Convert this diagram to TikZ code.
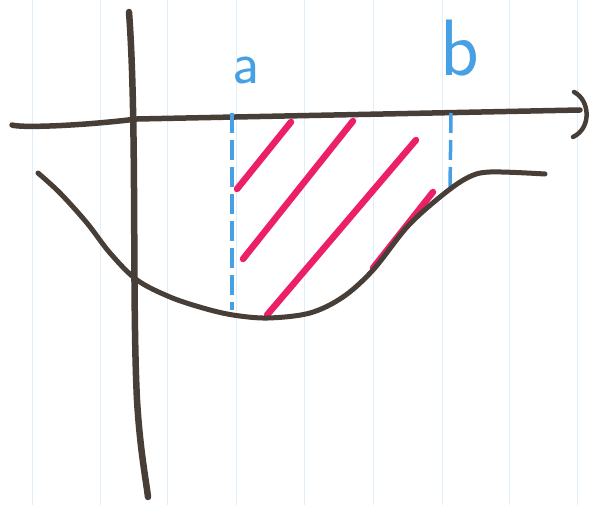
\documentclass[tikz,border=0pt]{standalone}
\usetikzlibrary{calc}

\definecolor{ink}{RGB}{72,62,56}
\definecolor{pen}{RGB}{72,160,228}
\definecolor{marker}{RGB}{236,32,104}
\definecolor{ruling}{RGB}{224,238,250}

\begin{document}
\begin{tikzpicture}[
    x=1pt, y=-1pt,
    axis/.style={draw=ink, line width=6.5pt, line cap=round, line join=round},
    graph/.style={draw=ink, line width=5pt, line cap=round},
    bound/.style={draw=pen, line width=3.5pt, dash pattern=on 20pt off 7pt},
    hatch/.style={draw=marker, line width=6.5pt, line cap=round},
    lbl/.style={text=pen, inner sep=0pt, font=\sffamily\fontsize{60}{60}\selectfont}
  ]
    % paper
    \useasboundingbox (0,0) rectangle (589,505);
    \fill[white] (0,0) rectangle (589,505);
    \foreach \x in {32,100,167,236,304,373,442,509,577}
      \draw[ruling, line width=1pt] (\x,0) -- (\x,505);

    % axes
    \draw[axis] (129,12) .. controls (137,120) and (132,300) .. (137,400)
      .. controls (140,450) and (146,480) .. (148,497);
    \draw[axis, line width=5.5pt] (12,125) .. controls (20,128) and (80,126) .. (137,119)
      -- (580,110);
    \draw[axis, line width=4.5pt] (574,92) .. controls (590,100) and (592,128) .. (573,137);

    % ends of the interval
    \coordinate (a0) at (232,113);
    \coordinate (a1) at (232,310);
    \coordinate (b0) at (451,113);
    \coordinate (b1) at (450,190);
    \draw[bound] (a0) -- (a1);
    \draw[bound] (b0) -- (b1);
    \node[lbl] (la) at (246,70) {a};
    \node[lbl, font=\sffamily\fontsize{80}{80}\selectfont] (lb) at (460,48) {b};

    % hatching
    \draw[hatch] (291,122) -- (237,189);
    \draw[hatch] (353,121) -- (243,259);
    \draw[hatch] (416,140) -- (267,315);
    \draw[hatch] (433,192) -- (373,268);

    % the function
    \draw[graph] plot[smooth, tension=0.55] coordinates {
      (38,173) (60,193) (87,223) (110,253) (137,280) (170,297) (203,308)
      (233,315) (268,318) (310,313) (343,297) (373,270) (407,227)
      (440,197) (467,178) (490,172) (545,174)};
\end{tikzpicture}
\end{document}
